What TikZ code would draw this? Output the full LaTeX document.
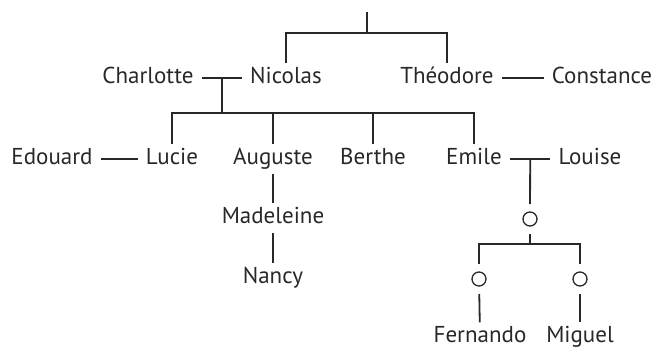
\documentclass[tikz,border=0pt]{standalone}
\usepackage{fontspec}
\setmainfont{PT Sans}
\usetikzlibrary{positioning}
\definecolor{ink}{RGB}{40,40,40}

\begin{document}
\begin{tikzpicture}[x=1pt,y=-1pt,
  person/.style={text=ink, font=\fontsize{23}{26}\selectfont, inner xsep=8pt, inner ysep=4pt,
    text height=16pt, text depth=5pt},
  leaf/.style={person, text depth=3pt},
  unknown/.style={circle, draw=ink, line width=1.3pt, minimum size=14pt, inner sep=0pt, outer sep=8pt},
  line/.style={draw=ink, line width=1.8pt}]
  \useasboundingbox (0,0) rectangle (656,348);

  % first generation
  \coordinate (root) at (367,12);
  \coordinate (rootbar) at (367,33);
  \node [person] (charlotte) at (148,78) {Charlotte};
  \node [person] (nicolas) at (286,78) {Nicolas};
  \node [person] (theodore) at (447,78) {Théodore};
  \node [person] (constance) at (602,78) {Constance};

  % children of Charlotte and Nicolas
  \node [person] (edouard) at (52,159) {Edouard};
  \node [person] (lucie) at (172,159) {Lucie};
  \node [person] (auguste) at (273,159) {Auguste};
  \node [person] (berthe) at (373,159) {Berthe};
  \node [person] (emile) at (474,159) {Emile};
  \node [person] (louise) at (590,159) {Louise};
  \coordinate (kids) at (222,113);

  \node [person] (madeleine) at (273,218) {Madeleine};
  \node [person] (nancy) at (273,278) {Nancy};

  % descendants of Emile and Louise
  \node [unknown] (anon) at (530,219) {};
  \coordinate (anonbar) at (530,244);
  \node [unknown] (anonleft) at (479,279) {};
  \node [unknown] (anonright) at (580,279) {};
  \node [leaf] (fernando) at (480,336) {Fernando};
  \node [leaf] (miguel) at (580,336) {Miguel};

  \draw [line] (root) -- (rootbar);
  \draw [line] (nicolas.north) |- (rootbar) -| (theodore.north);
  \draw [line] (charlotte) -- coordinate[midway] (cn) (nicolas);
  \draw [line] (theodore) -- (constance);
  \draw [line] (cn) -- (cn |- kids);
  \draw [line] (lucie.north) |- (kids) -| (emile.north);
  \draw [line] (auguste.north) -- (auguste.north |- kids);
  \draw [line] (berthe.north) -- (berthe.north |- kids);
  \draw [line] (edouard) -- (lucie);
  \draw [line] (auguste) -- (madeleine);
  \draw [line] (madeleine) -- (nancy);
  \draw [line] (emile) -- coordinate[midway] (el) (louise);
  \draw [line] (el) -- (anon);
  \draw [line] (anon) -- (anonbar);
  \draw [line] (anonleft) |- (anonbar) -| (anonright);
  \draw [line] (anonleft) -- (fernando);
  \draw [line] (anonright) -- (miguel);
\end{tikzpicture}
\end{document}
